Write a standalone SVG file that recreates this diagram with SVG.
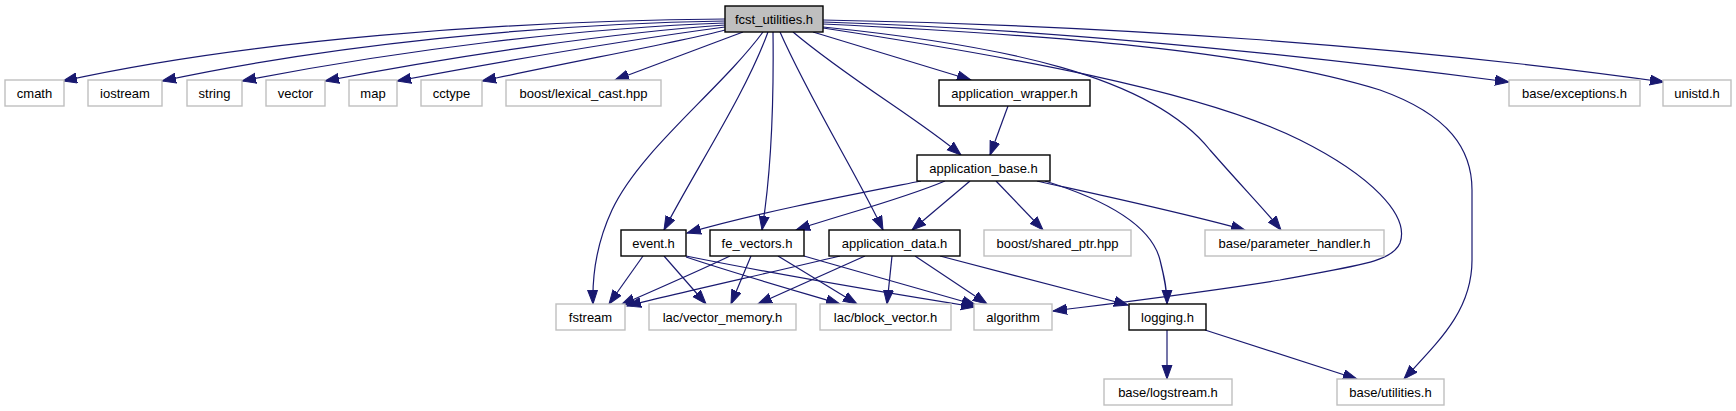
<svg xmlns="http://www.w3.org/2000/svg" width="1736" height="411" viewBox="0 0 1736 411">
<style>
.n rect{fill:#ffffff;stroke:#bfbfbf;stroke-width:1.4}
.n.b rect{stroke:#000000}
.n.r rect{fill:#bfbfbf;stroke:#000000}
.n text{font-family:"Liberation Sans",Arial,sans-serif;font-size:13px;fill:#000000;text-anchor:middle}
.e path{fill:none;stroke:#191970;stroke-width:1.2;marker-end:url(#ah)}
</style>
<defs>
<marker id="ah" markerUnits="userSpaceOnUse" markerWidth="16" markerHeight="12" refX="14" refY="5.5" orient="auto">
<path d="M0,0.5 L14,5.5 L0,10.5 z" fill="#191970" stroke="#191970" stroke-width="1"/>
</marker>
</defs>
<rect width="1736" height="411" fill="#ffffff"/>
<g id="edges" class="e">
<path d="M725,19 C500,21 250,40 63,81"/>
<path d="M725,21 C540,24 330,45 162,81"/>
<path d="M725,23 C580,28 400,50 242,81"/>
<path d="M725,25 C620,32 460,55 325,81"/>
<path d="M725,27 C650,37 520,58 397,81"/>
<path d="M725,30 C680,42 580,60 482,81"/>
<path d="M743,32 L615,80"/>
<path d="M763,32 C720,90 640,150 612,210 C598,240 592,270 593,304"/>
<path d="M768,32 C745,95 695,170 664,230"/>
<path d="M773,32 C774,110 770,180 762,230"/>
<path d="M780,32 C810,100 860,180 883,230"/>
<path d="M793,32 C850,80 920,120 961,155"/>
<path d="M813,32 L971,80"/>
<path d="M823,28 C1000,55 1200,90 1300,140 C1370,175 1410,215 1400,243 C1392,262 1360,265 1280,280 C1200,293 1100,305 1053,311"/>
<path d="M823,27 C1000,45 1150,75 1210,150 C1245,190 1265,210 1281,230"/>
<path d="M823,24 C1050,35 1250,50 1380,90 C1450,115 1472,150 1472,190 L1472,260 C1472,310 1440,340 1404,379"/>
<path d="M823,22 C1050,29 1300,55 1509,82"/>
<path d="M823,20 C1100,25 1400,45 1664,82"/>
<path d="M1008,106 L990,155"/>
<path d="M921,181 C850,195 760,212 687,233"/>
<path d="M945,181 C900,200 840,215 796,230"/>
<path d="M970,181 L912,230"/>
<path d="M996,181 L1043,230"/>
<path d="M1037,181 C1100,195 1180,212 1245,230"/>
<path d="M1045,181 C1090,195 1150,220 1160,260 C1165,280 1167,290 1167,304"/>
<path d="M643,256 L609,304"/>
<path d="M664,256 L706,304"/>
<path d="M686,257 C740,275 800,292 840,304"/>
<path d="M686,256 C780,275 900,295 975,307"/>
<path d="M730,256 C690,275 650,292 621,305"/>
<path d="M751,256 L731,304"/>
<path d="M778,256 L857,304"/>
<path d="M804,256 C870,275 940,295 976,305"/>
<path d="M840,256 C760,275 670,295 627,306"/>
<path d="M865,256 L758,304"/>
<path d="M892,256 L887,304"/>
<path d="M915,256 L987,304"/>
<path d="M940,256 C1000,272 1080,292 1128,305"/>
<path d="M1167,330 L1167,379"/>
<path d="M1205,330 L1357,379"/>
</g>
<g id="n_fcst" class="n r"><rect x="725" y="6" width="98" height="26"/><text x="774" y="23.5">fcst_utilities.h</text></g>
<g id="n_cmath" class="n"><rect x="5" y="80" width="59" height="26"/><text x="34.5" y="97.5">cmath</text></g>
<g id="n_iostream" class="n"><rect x="88" y="80" width="74" height="26"/><text x="125" y="97.5">iostream</text></g>
<g id="n_string" class="n"><rect x="187" y="80" width="55" height="26"/><text x="214.5" y="97.5">string</text></g>
<g id="n_vector" class="n"><rect x="266" y="80" width="59" height="26"/><text x="295.5" y="97.5">vector</text></g>
<g id="n_map" class="n"><rect x="349" y="80" width="48" height="26"/><text x="373" y="97.5">map</text></g>
<g id="n_cctype" class="n"><rect x="421" y="80" width="61" height="26"/><text x="451.5" y="97.5">cctype</text></g>
<g id="n_lexical" class="n"><rect x="506" y="80" width="155" height="26"/><text x="583.5" y="97.5">boost/lexical_cast.hpp</text></g>
<g id="n_appwrapper" class="n b"><rect x="939" y="80" width="151" height="26"/><text x="1014.5" y="97.5">application_wrapper.h</text></g>
<g id="n_exceptions" class="n"><rect x="1509" y="80" width="131" height="26"/><text x="1574.5" y="97.5">base/exceptions.h</text></g>
<g id="n_unistd" class="n"><rect x="1663" y="80" width="68" height="26"/><text x="1697" y="97.5">unistd.h</text></g>
<g id="n_appbase" class="n b"><rect x="917" y="155" width="133" height="26"/><text x="983.5" y="172.5">application_base.h</text></g>
<g id="n_event" class="n b"><rect x="621" y="230" width="65" height="26"/><text x="653.5" y="247.5">event.h</text></g>
<g id="n_fevectors" class="n b"><rect x="710" y="230" width="94" height="26"/><text x="757" y="247.5">fe_vectors.h</text></g>
<g id="n_appdata" class="n b"><rect x="829" y="230" width="131" height="26"/><text x="894.5" y="247.5">application_data.h</text></g>
<g id="n_sharedptr" class="n"><rect x="984" y="230" width="147" height="26"/><text x="1057.5" y="247.5">boost/shared_ptr.hpp</text></g>
<g id="n_param" class="n"><rect x="1205" y="230" width="179" height="26"/><text x="1294.5" y="247.5">base/parameter_handler.h</text></g>
<g id="n_fstream" class="n"><rect x="556" y="304" width="69" height="26"/><text x="590.5" y="321.5">fstream</text></g>
<g id="n_vecmem" class="n"><rect x="649" y="304" width="147" height="26"/><text x="722.5" y="321.5">lac/vector_memory.h</text></g>
<g id="n_blockvec" class="n"><rect x="820" y="304" width="131" height="26"/><text x="885.5" y="321.5">lac/block_vector.h</text></g>
<g id="n_algorithm" class="n"><rect x="974" y="304" width="78" height="26"/><text x="1013" y="321.5">algorithm</text></g>
<g id="n_logging" class="n b"><rect x="1129" y="304" width="77" height="26"/><text x="1167.5" y="321.5">logging.h</text></g>
<g id="n_logstream" class="n"><rect x="1104" y="379" width="128" height="26"/><text x="1168" y="396.5">base/logstream.h</text></g>
<g id="n_utilities" class="n"><rect x="1337" y="379" width="107" height="26"/><text x="1390.5" y="396.5">base/utilities.h</text></g>
</svg>
